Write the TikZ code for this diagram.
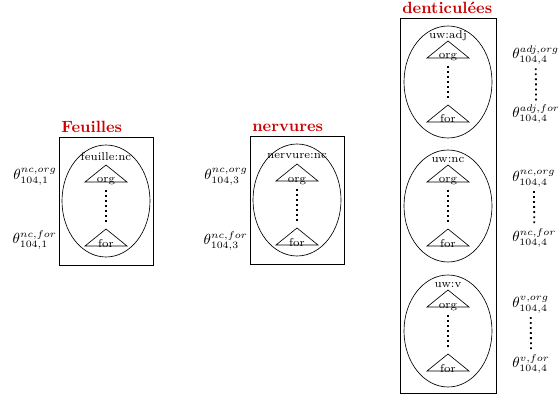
\documentclass[tikz,border=0pt]{standalone}
\begin{document}
\begin{tikzpicture}[x=0.614pt, y=-0.614pt,
    cadre/.style={thin},
    titre/.style={red!80!black, font=\bfseries, anchor=base west, inner sep=0pt},
    petit/.style={font=\scriptsize, inner sep=0pt},
    pointille/.style={dotted, line width=1.1pt},
    theta/.style={font=\small, inner sep=0pt}]
  \useasboundingbox (0,0) rectangle (558,394);

  % Feuilles
  \draw[cadre] (59,137) rectangle (153,265);
  \node[titre] (tfeu) at (61,133) {Feuilles};
  \begin{scope}[shift={(106,201)}]
    \draw (0,0) ellipse [x radius=44, y radius=56];
    \node[petit] (lab1) at (0,-44) {feuille:nc};
    \draw (-21,-19) -- (0,-36) -- (21,-19) -- cycle;
    \node[petit, anchor=base] (org1) at (0,-18) {org};
    \draw (-21,45) -- (0,28) -- (21,45) -- cycle;
    \node[petit, anchor=base] (for1) at (0,46) {for};
    \coordinate (p1) at (0,28);
    \draw[pointille, shorten <=2.5pt, shorten >=4.3pt] (org1) -- (p1);
  \end{scope}
  \node[theta, anchor=east] (t1o) at (57,177) {$\theta^{nc,org}_{104,1}$};
  \node[theta, anchor=east] (t1f) at (57,240) {$\theta^{nc,for}_{104,1}$};

  % nervures
  \draw[cadre] (250,136) rectangle (344,264);
  \node[titre] (tner) at (252,132) {nervures};
  \begin{scope}[shift={(297,200)}]
    \draw (0,0) ellipse [x radius=44, y radius=56];
    \node[petit] (lab2) at (0,-44) {nervure:nc};
    \draw (-21,-19) -- (0,-36) -- (21,-19) -- cycle;
    \node[petit, anchor=base] (org2) at (0,-18) {org};
    \draw (-21,45) -- (0,28) -- (21,45) -- cycle;
    \node[petit, anchor=base] (for2) at (0,46) {for};
    \coordinate (p2) at (0,28);
    \draw[pointille, shorten <=2.5pt, shorten >=4.3pt] (org2) -- (p2);
  \end{scope}
  \node[theta, anchor=east] (t2o) at (248,177) {$\theta^{nc,org}_{104,3}$};
  \node[theta, anchor=east] (t2f) at (248,241) {$\theta^{nc,for}_{104,3}$};

  % denticulees
  \draw[cadre] (400,18) rectangle (496,393);
  \node[titre] (tden) at (402,14) {denticulées};
  \begin{scope}[shift={(448,82)}]
    \draw (0,0) ellipse [x radius=44, y radius=56];
    \node[petit] (lab3) at (0,-46) {uw:adj};
    \draw (-21,-24) -- (0,-41) -- (21,-24) -- cycle;
    \node[petit, anchor=base] (org3) at (0,-23) {org};
    \draw (-21,40) -- (0,23) -- (21,40) -- cycle;
    \node[petit, anchor=base] (for3) at (0,41) {for};
    \coordinate (p3) at (0,23);
    \draw[pointille, shorten <=2.5pt, shorten >=4.3pt] (org3) -- (p3);
  \end{scope}
  \begin{scope}[shift={(448,206)}]
    \draw (0,0) ellipse [x radius=44, y radius=56];
    \node[petit] (lab4) at (0,-46) {uw:nc};
    \draw (-21,-24) -- (0,-41) -- (21,-24) -- cycle;
    \node[petit, anchor=base] (org4) at (0,-23) {org};
    \draw (-21,40) -- (0,23) -- (21,40) -- cycle;
    \node[petit, anchor=base] (for4) at (0,41) {for};
    \coordinate (p4) at (0,23);
    \draw[pointille, shorten <=2.5pt, shorten >=4.3pt] (org4) -- (p4);
  \end{scope}
  \begin{scope}[shift={(448,331)}]
    \draw (0,0) ellipse [x radius=44, y radius=56];
    \node[petit] (lab5) at (0,-46) {uw:v};
    \draw (-21,-24) -- (0,-41) -- (21,-24) -- cycle;
    \node[petit, anchor=base] (org5) at (0,-23) {org};
    \draw (-21,40) -- (0,23) -- (21,40) -- cycle;
    \node[petit, anchor=base] (for5) at (0,41) {for};
    \coordinate (p5) at (0,23);
    \draw[pointille, shorten <=2.5pt, shorten >=4.3pt] (org5) -- (p5);
  \end{scope}

  % parametres a droite
  \node[theta, anchor=west] (t3o) at (512,55) {$\theta^{adj,org}_{104,4}$};
  \node[theta, anchor=west] (t3f) at (512,114) {$\theta^{adj,for}_{104,4}$};
  \draw[pointille, shorten <=2pt, shorten >=2pt] (t3o) -- (t3f);
  \node[theta, anchor=west] (t4o) at (512,179) {$\theta^{nc,org}_{104,4}$};
  \node[theta, anchor=west] (t4f) at (512,238) {$\theta^{nc,for}_{104,4}$};
  \draw[pointille, shorten <=2pt, shorten >=2pt] (t4o) -- (t4f);
  \node[theta, anchor=west] (t5o) at (512,305) {$\theta^{v,org}_{104,4}$};
  \node[theta, anchor=west] (t5f) at (512,364) {$\theta^{v,for}_{104,4}$};
  \draw[pointille, shorten <=2pt, shorten >=2pt] (t5o) -- (t5f);
\end{tikzpicture}
\end{document}
